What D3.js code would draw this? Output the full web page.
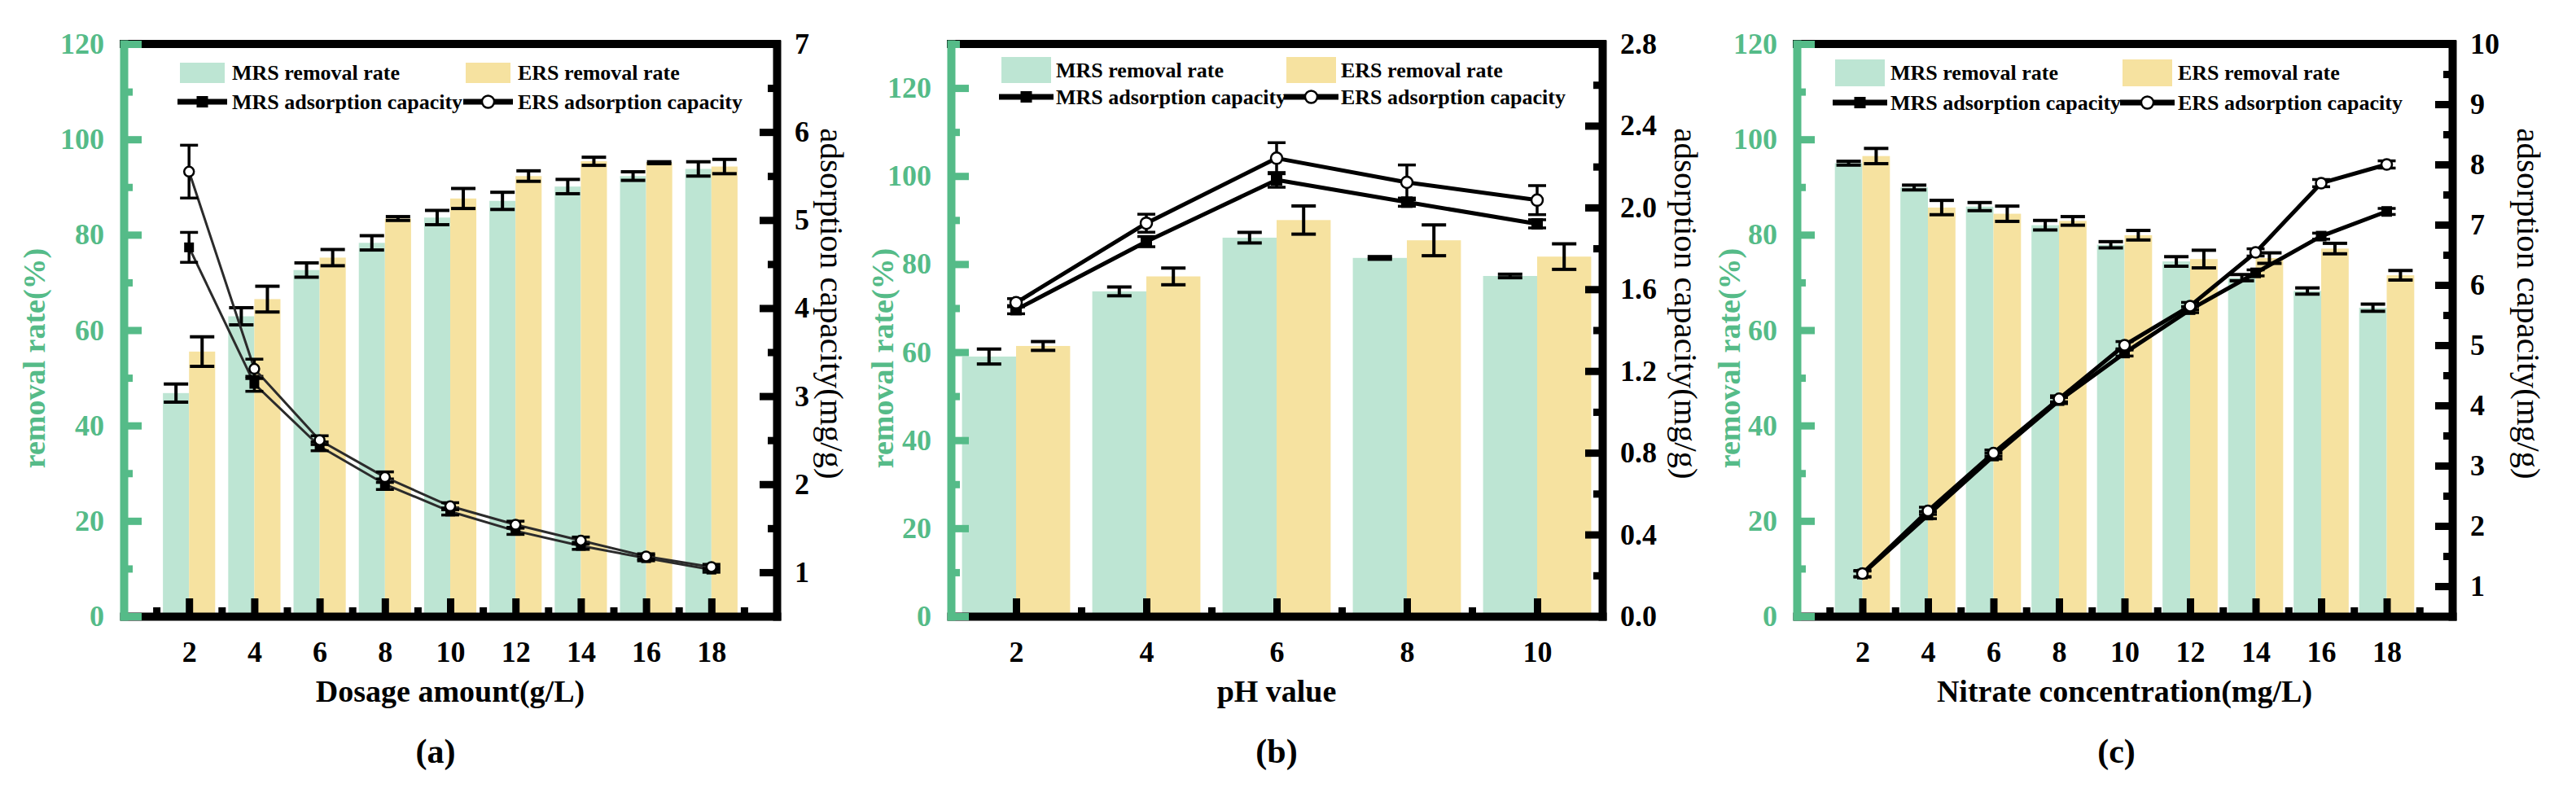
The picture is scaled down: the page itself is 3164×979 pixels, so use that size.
<!DOCTYPE html>
<html>
<head>
<meta charset="utf-8">
<script src="https://cdn.jsdelivr.net/npm/d3@7"></script>
<style>
  body { margin: 0; background: #fff; }
  svg { display: block; }
</style>
</head>
<body>
<div id="chart-wrapper"></div>
<script>
// ---- Data ----
// (a) dosage series
const dosageX = [2, 4, 6, 8, 10, 12, 14, 16, 18];
const dosageMrsRate = [46.8, 62.9, 72.6, 78.3, 83.6, 87.1, 90.1, 92.3, 93.8];
const dosageMrsRateErr = [1.9, 1.8, 1.5, 1.5, 1.5, 1.8, 1.5, 0.9, 1.5];
const dosageErsRate = [55.5, 66.5, 75.2, 83.4, 87.6, 92.3, 95.4, 95.1, 94.3];
const dosageErsRateErr = [3.1, 2.7, 1.7, 0.4, 2.1, 1.1, 0.85, 0.2, 1.5];
const dosageMrsCap = [4.69, 3.14, 2.43, 2.0, 1.69, 1.47, 1.3, 1.16, 1.03];
const dosageMrsCapErr = [0.17, 0.085, 0.05, 0.06, 0.04, 0.04, 0.04, 0.03, 0.03];
const dosageErsCap = [5.55, 3.31, 2.5, 2.08, 1.75, 1.54, 1.36, 1.18, 1.06];
const dosageErsCapErr = [0.3, 0.11, 0.05, 0.06, 0.04, 0.04, 0.04, 0.03, 0.03];

// (b) pH series
const phX = [2, 4, 6, 8, 10];
const phMrsRate = [59.0, 73.8, 86.0, 81.4, 77.3];
const phMrsRateErr = [1.7, 1.0, 1.2, 0.3, 0.4];
const phErsRate = [61.4, 77.2, 90.0, 85.4, 81.7];
const phErsRateErr = [1.0, 1.9, 3.2, 3.5, 2.9];
const phMrsCap = [1.5, 1.833, 2.135, 2.026, 1.92];
const phMrsCapErr = [0.02, 0.025, 0.036, 0.02, 0.02];
const phErsCap = [1.534, 1.923, 2.241, 2.123, 2.036];
const phErsCapErr = [0.02, 0.044, 0.076, 0.085, 0.071];

// (c) nitrate series
const nitrateX = [2, 4, 6, 8, 10, 12, 14, 16, 18];
const nitrateMrsRate = [95.0, 89.9, 85.9, 82.0, 77.9, 74.4, 71.0, 68.2, 64.7];
const nitrateMrsRateErr = [0.4, 0.5, 0.85, 1.0, 0.65, 1.0, 0.65, 0.65, 0.75];
const nitrateErsRate = [96.5, 85.7, 84.4, 82.9, 79.9, 74.9, 75.1, 77.1, 71.5];
const nitrateErsRateErr = [1.6, 1.5, 1.6, 0.9, 1.0, 1.85, 1.1, 1.1, 1.0];
const nitrateMrsCap = [1.2, 2.18, 3.16, 4.08, 4.87, 5.59, 6.2, 6.81, 7.22];
const nitrateMrsCapErr = [0.05, 0.06, 0.05, 0.05, 0.05, 0.05, 0.05, 0.05, 0.05];
const nitrateErsCap = [1.21, 2.25, 3.21, 4.11, 5.0, 5.65, 6.54, 7.69, 8.0];
const nitrateErsCapErr = [0.05, 0.06, 0.05, 0.05, 0.06, 0.06, 0.06, 0.06, 0.06];

// Tick values
const evenTicks = [2, 4, 6, 8, 10, 12, 14, 16, 18];
const oddTicks = [1, 3, 5, 7, 9, 11, 13, 15, 17, 19];
const phTicks = [2, 4, 6, 8, 10];
const phMinorTicks = [3, 5, 7, 9];
const rateTicks = [0, 20, 40, 60, 80, 100, 120];
const rateMinorTicks = [10, 30, 50, 70, 90, 110];
const rateMinorTicksPh = [10, 30, 50, 70, 90, 110, 130];
const capTicksA = [1, 2, 3, 4, 5, 6, 7];
const capMinorA = [1.5, 2.5, 3.5, 4.5, 5.5, 6.5];
const capTicksB = [0, 0.4, 0.8, 1.2, 1.6, 2.0, 2.4, 2.8];
const capMinorB = [0.2, 0.6, 1.0, 1.4, 1.8, 2.2, 2.6];
const capTicksC = [1, 2, 3, 4, 5, 6, 7, 8, 9, 10];
const capMinorC = [1.5, 2.5, 3.5, 4.5, 5.5, 6.5, 7.5, 8.5, 9.5];

const legendLabels = ["MRS removal rate", "ERS removal rate", "MRS adsorption capacity", "ERS adsorption capacity"];

// ---- Styles ----
const colors = { mrsBar: "#bde5d3", ersBar: "#f6e2a0", green: "#55bb88", ink: "#000" };
const serif = "'Liberation Serif', 'Times New Roman', serif";

const panels = [
  {
    x: dosageX,
    mrsRate: dosageMrsRate, mrsRateErr: dosageMrsRateErr,
    ersRate: dosageErsRate, ersRateErr: dosageErsRateErr,
    mrsCap: dosageMrsCap, mrsCapErr: dosageMrsCapErr,
    ersCap: dosageErsCap, ersCapErr: dosageErsCapErr,
    xDomain: [0, 20], xTicks: evenTicks, xMinor: oddTicks,
    leftDomain: [0, 120], leftTicks: rateTicks, leftMinor: rateMinorTicks,
    rightDomain: [0.5, 7], rightTicks: capTicksA, rightMinor: capMinorA, rightFormat: "d",
    xTitle: "Dosage amount(g/L)", label: "(a)", labelDx: -18,
    box: { left: 152, right: 954, top: 54, bottom: 757 },
    barWidth: 0.8, lineWidth: 3, lineColor: "#2b2b2b", marker: 12,
    leftTitleX: 55, rightTitleX: 1008,
    legend: { x1: 221, x2: 572, w: 55, h: 25, row1: 89.5, row2: 125, textDx: 64 },
  },
  {
    x: phX,
    mrsRate: phMrsRate, mrsRateErr: phMrsRateErr,
    ersRate: phErsRate, ersRateErr: phErsRateErr,
    mrsCap: phMrsCap, mrsCapErr: phMrsCapErr,
    ersCap: phErsCap, ersCapErr: phErsCapErr,
    xDomain: [1, 11], xTicks: phTicks, xMinor: phMinorTicks,
    leftDomain: [0, 130], leftTicks: rateTicks, leftMinor: rateMinorTicksPh,
    rightDomain: [0, 2.8], rightTicks: capTicksB, rightMinor: capMinorB, rightFormat: ".1f",
    xTitle: "pH value", label: "(b)", labelDx: 0,
    box: { left: 1168, right: 1968, top: 54, bottom: 757 },
    barWidth: 0.83, lineWidth: 5, lineColor: "#000", marker: 14,
    leftTitleX: 1097, rightTitleX: 2057,
    legend: { x1: 1230, x2: 1580, w: 61, h: 32, row1: 86, row2: 119, textDx: 67 },
  },
  {
    x: nitrateX,
    mrsRate: nitrateMrsRate, mrsRateErr: nitrateMrsRateErr,
    ersRate: nitrateErsRate, ersRateErr: nitrateErsRateErr,
    mrsCap: nitrateMrsCap, mrsCapErr: nitrateMrsCapErr,
    ersCap: nitrateErsCap, ersCapErr: nitrateErsCapErr,
    xDomain: [0, 20], xTicks: evenTicks, xMinor: oddTicks,
    leftDomain: [0, 120], leftTicks: rateTicks, leftMinor: rateMinorTicks,
    rightDomain: [0.5, 10], rightTicks: capTicksC, rightMinor: capMinorC, rightFormat: "d",
    xTitle: "Nitrate concentration(mg/L)", label: "(c)", labelDx: -10,
    box: { left: 2207, right: 3012, top: 54, bottom: 757 },
    barWidth: 0.84, lineWidth: 5, lineColor: "#000", marker: 13,
    leftTitleX: 2137, rightTitleX: 3092,
    legend: { x1: 2254, x2: 2607, w: 61, h: 33, row1: 89.5, row2: 126, textDx: 68 },
  },
];

const wrapper = d3
  .select("#chart-wrapper")
  .append("svg")
  .attr("width", 3164)
  .attr("height", 979)
  .style("background", "#fff");

function styleAxis(axisG, color, fontSize) {
  axisG
    .attr("font-family", serif)
    .attr("font-size", fontSize)
    .attr("font-weight", "bold")
    .attr("color", color);
  axisG.selectAll(".tick line").attr("stroke-width", 9);
  axisG.select(".domain").attr("stroke-width", 10).attr("stroke-linecap", "square");
}

function drawPanel(p) {
  const b = p.box;
  const xScale = d3.scaleLinear().domain(p.xDomain).range([b.left, b.right]);
  const yLeft = d3.scaleLinear().domain(p.leftDomain).range([b.bottom, b.top]);
  const yRight = d3.scaleLinear().domain(p.rightDomain).range([b.bottom, b.top]);
  const bw = p.barWidth;
  const bounds = wrapper.append("g");

  // Bars
  const barSeries = [
    { values: p.mrsRate, errs: p.mrsRateErr, color: colors.mrsBar, from: (d) => d - bw, to: (d) => d },
    { values: p.ersRate, errs: p.ersRateErr, color: colors.ersBar, from: (d) => d, to: (d) => d + bw },
  ];
  barSeries.forEach((s) => {
    const rows = p.x.map((d, i) => ({ x: d, v: s.values[i], e: s.errs[i] }));
    bounds
      .append("g")
      .selectAll("rect")
      .data(rows)
      .join("rect")
      .attr("x", (d) => xScale(s.from(d.x)))
      .attr("width", (d) => xScale(s.to(d.x)) - xScale(s.from(d.x)))
      .attr("y", (d) => yLeft(d.v))
      .attr("height", (d) => yLeft(0) - yLeft(d.v))
      .attr("fill", s.color);

    // error bars for the bars
    const err = bounds.append("g").attr("stroke", colors.ink).attr("stroke-width", 4);
    rows.forEach((d) => {
      const cx = (xScale(s.from(d.x)) + xScale(s.to(d.x))) / 2;
      const y1 = yLeft(d.v - d.e);
      const y2 = yLeft(d.v + d.e);
      err.append("line").attr("x1", cx).attr("x2", cx).attr("y1", y1).attr("y2", y2);
      [y1, y2].forEach((y) =>
        err.append("line").attr("x1", cx - 15).attr("x2", cx + 15).attr("y1", y).attr("y2", y)
      );
    });
  });

  // Lines (right axis)
  const lineGenerator = d3
    .line()
    .x((d) => xScale(d.x))
    .y((d) => yRight(d.v));
  const lineSeries = [
    { values: p.mrsCap, errs: p.mrsCapErr, kind: "square" },
    { values: p.ersCap, errs: p.ersCapErr, kind: "circle" },
  ];
  lineSeries.forEach((s) => {
    const rows = p.x.map((d, i) => ({ x: d, v: s.values[i], e: s.errs[i] }));
    bounds
      .append("path")
      .attr("d", lineGenerator(rows))
      .attr("fill", "none")
      .attr("stroke", p.lineColor)
      .attr("stroke-width", p.lineWidth)
      .attr("stroke-linejoin", "round");
    const err = bounds.append("g").attr("stroke", colors.ink).attr("stroke-width", 3.5);
    rows.forEach((d) => {
      const cx = xScale(d.x);
      const y1 = yRight(d.v - d.e);
      const y2 = yRight(d.v + d.e);
      err.append("line").attr("x1", cx).attr("x2", cx).attr("y1", y1).attr("y2", y2);
      [y1, y2].forEach((y) =>
        err.append("line").attr("x1", cx - 11).attr("x2", cx + 11).attr("y1", y).attr("y2", y)
      );
    });
    s.rows = rows;
  });
  lineSeries.forEach((s) => {
    const m = p.marker;
    if (s.kind === "square") {
      bounds
        .append("g")
        .selectAll("rect")
        .data(s.rows)
        .join("rect")
        .attr("x", (d) => xScale(d.x) - m / 2)
        .attr("y", (d) => yRight(d.v) - m / 2)
        .attr("width", m)
        .attr("height", m)
        .attr("fill", colors.ink);
    } else {
      bounds
        .append("g")
        .selectAll("circle")
        .data(s.rows)
        .join("circle")
        .attr("cx", (d) => xScale(d.x))
        .attr("cy", (d) => yRight(d.v))
        .attr("r", m / 2)
        .attr("fill", "#fff")
        .attr("stroke", colors.ink)
        .attr("stroke-width", 2.5);
    }
  });

  // Frame top
  bounds
    .append("line")
    .attr("x1", xScale.range()[0])
    .attr("x2", xScale.range()[1])
    .attr("y1", yLeft.range()[1])
    .attr("y2", yLeft.range()[1])
    .attr("stroke", colors.ink)
    .attr("stroke-width", 10)
    .attr("stroke-linecap", "square");

  // Bottom axis
  const xAxis = bounds
    .append("g")
    .attr("transform", `translate(0,${b.bottom})`)
    .call(d3.axisBottom(xScale).tickValues(p.xTicks).tickSize(-22).tickSizeOuter(0).tickPadding(30).tickFormat(d3.format("d")));
  styleAxis(xAxis, colors.ink, 36);
  const xMinor = bounds
    .append("g")
    .attr("transform", `translate(0,${b.bottom})`)
    .call(d3.axisBottom(xScale).tickValues(p.xMinor).tickSize(-11).tickFormat(""));
  xMinor.select(".domain").remove();
  styleAxis(xMinor, colors.ink, 36);

  // Right axis
  const yRAxis = bounds
    .append("g")
    .attr("transform", `translate(${b.right},0)`)
    .call(d3.axisRight(yRight).tickValues(p.rightTicks).tickSize(-21).tickSizeOuter(0).tickPadding(22).tickFormat(d3.format(p.rightFormat)));
  styleAxis(yRAxis, colors.ink, 36);
  const yRMinor = bounds
    .append("g")
    .attr("transform", `translate(${b.right},0)`)
    .call(d3.axisRight(yRight).tickValues(p.rightMinor).tickSize(-11).tickFormat(""));
  yRMinor.select(".domain").remove();
  styleAxis(yRMinor, colors.ink, 36);

  // Left axis (green, drawn last so its corner ticks sit on the frame)
  const yLMinor = bounds
    .append("g")
    .attr("transform", `translate(${b.left},0)`)
    .call(d3.axisLeft(yLeft).tickValues(p.leftMinor).tickSize(-11).tickFormat(""));
  yLMinor.select(".domain").remove();
  styleAxis(yLMinor, colors.green, 36);
  const yLAxis = bounds
    .append("g")
    .attr("transform", `translate(${b.left},0)`)
    .call(d3.axisLeft(yLeft).tickValues(p.leftTicks).tickSize(-22).tickSizeOuter(0).tickPadding(24).tickFormat(d3.format("d")));
  styleAxis(yLAxis, colors.green, 36);

  // Axis titles
  const midX = (b.left + b.right) / 2;
  bounds
    .append("text")
    .attr("x", midX)
    .attr("y", 862)
    .attr("text-anchor", "middle")
    .attr("font-family", serif)
    .attr("font-weight", "bold")
    .attr("font-size", 38)
    .text(p.xTitle);
  bounds
    .append("text")
    .attr("x", midX + p.labelDx)
    .attr("y", 937)
    .attr("text-anchor", "middle")
    .attr("font-family", serif)
    .attr("font-weight", "bold")
    .attr("font-size", 42)
    .text(p.label);
  bounds
    .append("text")
    .attr("transform", `translate(${p.leftTitleX},440) rotate(-90)`)
    .attr("text-anchor", "middle")
    .attr("font-family", serif)
    .attr("font-weight", "bold")
    .attr("font-size", 38)
    .attr("fill", colors.green)
    .text("removal rate(%)");
  bounds
    .append("text")
    .attr("transform", `translate(${p.rightTitleX},373) rotate(90)`)
    .attr("text-anchor", "middle")
    .attr("font-family", serif)
    .attr("font-size", 41)
    .attr("fill", colors.ink)
    .text("adsorption capacity(mg/g)");

  // Legend
  const lg = p.legend;
  const legend = bounds.append("g").attr("font-family", serif).attr("font-weight", "bold").attr("font-size", 26);
  [
    { x: lg.x1, color: colors.mrsBar, text: legendLabels[0] },
    { x: lg.x2, color: colors.ersBar, text: legendLabels[1] },
  ].forEach((item) => {
    legend.append("rect").attr("x", item.x).attr("y", lg.row1 - lg.h / 2).attr("width", lg.w).attr("height", lg.h).attr("fill", item.color);
    legend.append("text").attr("x", item.x + lg.textDx).attr("y", lg.row1 + 8.5).text(item.text);
  });
  [
    { x: lg.x1, kind: "square", text: legendLabels[2] },
    { x: lg.x2, kind: "circle", text: legendLabels[3] },
  ].forEach((item) => {
    legend
      .append("line")
      .attr("x1", item.x - 3)
      .attr("x2", item.x + lg.w + 3)
      .attr("y1", lg.row2)
      .attr("y2", lg.row2)
      .attr("stroke", colors.ink)
      .attr("stroke-width", 7);
    const cx = item.x + lg.w / 2;
    if (item.kind === "square") {
      legend.append("rect").attr("x", cx - 7).attr("y", lg.row2 - 7).attr("width", 14).attr("height", 14).attr("fill", colors.ink);
    } else {
      legend.append("circle").attr("cx", cx).attr("cy", lg.row2).attr("r", 7.5).attr("fill", "#fff").attr("stroke", colors.ink).attr("stroke-width", 2.5);
    }
    legend.append("text").attr("x", item.x + lg.textDx).attr("y", lg.row2 + 8.5).text(item.text);
  });
}

panels.forEach(drawPanel);
</script>
</body>
</html>
